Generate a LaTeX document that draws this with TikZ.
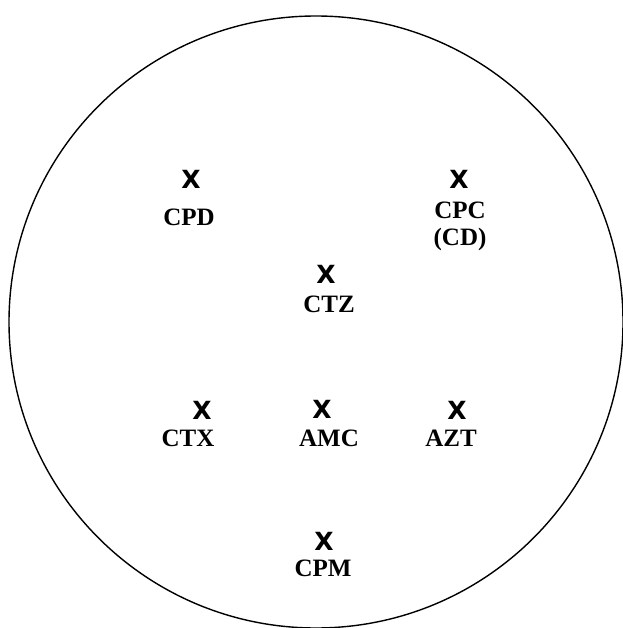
\documentclass[tikz,border=0pt]{standalone}
\usepackage{fontspec}
\setmainfont{Liberation Serif}
\newfontfamily\xfont{DejaVu Sans}
\begin{document}
\begin{tikzpicture}[x=1pt,y=-1pt,
  mark x/.style={font=\xfont\bfseries\fontsize{25}{25}\selectfont, inner sep=0pt},
  lbl/.style={font=\bfseries\fontsize{25}{28}\selectfont, inner sep=0pt, align=center}]
\useasboundingbox (0,0) rectangle (622,628);
\draw[line width=1.4pt] (316,322) ellipse [x radius=307, y radius=306];
\node[mark x] (xcpd) at (191,179) {X};
\node[lbl] (cpd) at (189,217) {CPD};
\node[mark x] (xcpc) at (459,179) {X};
\node[lbl] (cpc) at (460,210) {CPC};
\node[lbl] (cd) at (460,239) {(CD)};
\node[mark x] (xctz) at (326,274) {X};
\node[lbl] (ctz) at (329,304) {CTZ};
\node[mark x] (xctx) at (202,410) {X};
\node[lbl] (ctx) at (188,438) {CTX};
\node[mark x] (xamc) at (322,409) {X};
\node[lbl] (amc) at (329,438) {AMC};
\node[mark x] (xazt) at (457,410) {X};
\node[lbl] (azt) at (451,438) {AZT};
\node[mark x] (xcpm) at (324,541) {X};
\node[lbl] (cpm) at (323,568) {CPM};
\end{tikzpicture}
\end{document}
